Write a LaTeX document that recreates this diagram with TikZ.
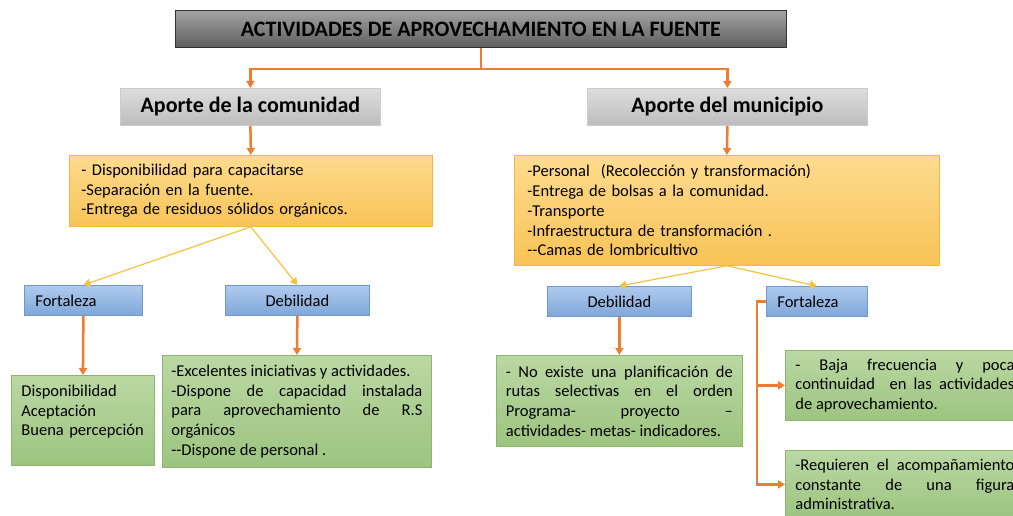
\documentclass[tikz,border=0pt]{standalone}
\usepackage{fontspec}
\setmainfont{Carlito}
\usetikzlibrary{arrows.meta}

\definecolor{titletop}{HTML}{A3A3A3}
\definecolor{titlebot}{HTML}{5E5E5E}
\definecolor{aportetop}{HTML}{DDDDDD}
\definecolor{aportebot}{HTML}{BDBDBD}
\definecolor{listtop}{HTML}{FDDB8F}
\definecolor{listbot}{HTML}{F8C356}
\definecolor{listline}{HTML}{F2BA3C}
\definecolor{tagtop}{HTML}{AECBEE}
\definecolor{tagbot}{HTML}{7FA7D9}
\definecolor{tagline}{HTML}{7097CC}
\definecolor{notetop}{HTML}{BAD8A3}
\definecolor{notebot}{HTML}{9CC47F}
\definecolor{noteline}{HTML}{8CB670}
\definecolor{orangelink}{HTML}{ED7D31}
\definecolor{yellowlink}{HTML}{F4C242}

\begin{document}
\begin{tikzpicture}[x=1pt,y=-1pt,
	box/.style={anchor=north west,inner ysep=0pt,line width=0.8pt},
	titlebox/.style={box,draw=black!80,top color=titletop,bottom color=titlebot,font=\fontsize{22}{26}\selectfont\bfseries},
	aportebox/.style={box,draw=black!20,top color=aportetop,bottom color=aportebot,font=\fontsize{22}{26}\selectfont\bfseries},
	listbox/.style={box,draw=listline,top color=listtop,bottom color=listbot,align=left,font=\fontsize{16.5}{19.7}\selectfont},
	tagbox/.style={box,draw=tagline,top color=tagtop,bottom color=tagbot,minimum height=30pt,font=\fontsize{16.5}{19.7}\selectfont},
	notebox/.style={box,draw=noteline,top color=notetop,bottom color=notebot,font=\fontsize{16.5}{19.7}\selectfont},
	link/.style={draw=orangelink,line width=2.5pt,-{Triangle[length=7pt,width=8pt]}},
	sublink/.style={draw=yellowlink,line width=1.2pt,-{Triangle[length=7pt,width=8pt]}}
	]
	\useasboundingbox (0,0) rectangle (1013,516);
	\fill[white] (0,0) rectangle (1013,516);
	\clip (0,0) rectangle (1013,516);

	\node[titlebox,minimum width=611pt,minimum height=37pt] (title) at (175,10) {ACTIVIDADES DE APROVECHAMIENTO EN LA FUENTE};

	\node[aportebox,minimum width=260pt,minimum height=37pt] (comu) at (120,88) {Aporte de la comunidad};
	\node[aportebox,minimum width=280pt,minimum height=37pt] (muni) at (587,88) {Aporte del municipio};

	\node[listbox,inner xsep=12pt,text width=339pt,minimum height=71pt] (listc) at (69,155)
	{- Disponibilidad para capacitarse\\
	-Separación en la fuente.\\
	-Entrega de residuos sólidos orgánicos.};
	\node[listbox,inner xsep=13pt,text width=399pt,minimum height=110pt] (listm) at (514,155)
	{-Personal\ \ (Recolección y transformación)\\
	-Entrega de bolsas a la comunidad.\\
	-Transporte\\
	-Infraestructura de transformación .\\
	-\kern0pt-Camas de lombricultivo};

	\node[tagbox,inner xsep=11pt,text width=96pt,align=left] (fortc) at (24,285) {Fortaleza};
	\node[tagbox,minimum width=144pt] (debc) at (225,285) {Debilidad};
	\node[tagbox,minimum width=144pt] (debm) at (547,286) {Debilidad};
	\node[tagbox,inner xsep=11pt,text width=79pt,align=left] (fortm) at (766,286) {Fortaleza};

	\node[notebox,inner xsep=10pt,text width=123pt,align=left,minimum height=90pt] (notec1) at (11,375)
	{Disponibilidad\\ Aceptación\\ Buena percepción\\ \mbox{}};
	\node[notebox,inner xsep=9pt,text width=251pt,align=justify,minimum height=112pt] (notec2) at (162,355)
	{-Excelentes iniciativas y actividades.\newline
	-Dispone de capacidad instalada\linebreak para aprovechamiento de R.S\linebreak orgánicos\newline
	-\kern0pt-Dispone de personal .};
	\node[notebox,inner xsep=9.5pt,text width=227pt,align=justify,minimum height=91pt] (notem1) at (496,355)
	{- No existe una planificación de\linebreak rutas selectivas en el orden\linebreak Programa- proyecto –\linebreak actividades- metas- indicadores.};
	\node[notebox,inner xsep=10pt,text width=219pt,align=justify,minimum height=70pt] (notem2) at (785,350)
	{- Baja frecuencia y poca\linebreak continuidad\ \ en las actividades\linebreak de aprovechamiento.};
	\node[notebox,inner xsep=10pt,text width=219pt,align=justify,minimum height=68pt] (notem3) at (785,450)
	{-Requieren el acompañamiento\linebreak constante de una figura\linebreak administrativa.};

	\draw[link] (title.south) -- ++(0,21) -| (comu.north);
	\draw[link] (title.south) -- ++(0,21) -| (muni.north);
	\draw[link] (comu.south) -- (listc.north);
	\draw[link] (muni.south) -- (listm.north);

	\draw[sublink] (listc.south) -- (fortc.north);
	\draw[sublink] (listc.south) -- (debc.north);
	\draw[sublink] (listm.south) -- (debm.north);
	\draw[sublink] (listm.south) -- (fortm.north);

	\draw[link] (fortc.south) -- (notec1.north);
	\draw[link] (debc.south) -- (notec2.north);
	\draw[link] (debm.south) -- (notem1.north);
	\draw[link] (fortm.west) -- ++(-9,0) |- (notem2.west);
	\draw[link] (fortm.west) -- ++(-9,0) |- (notem3.west);
\end{tikzpicture}
\end{document}
